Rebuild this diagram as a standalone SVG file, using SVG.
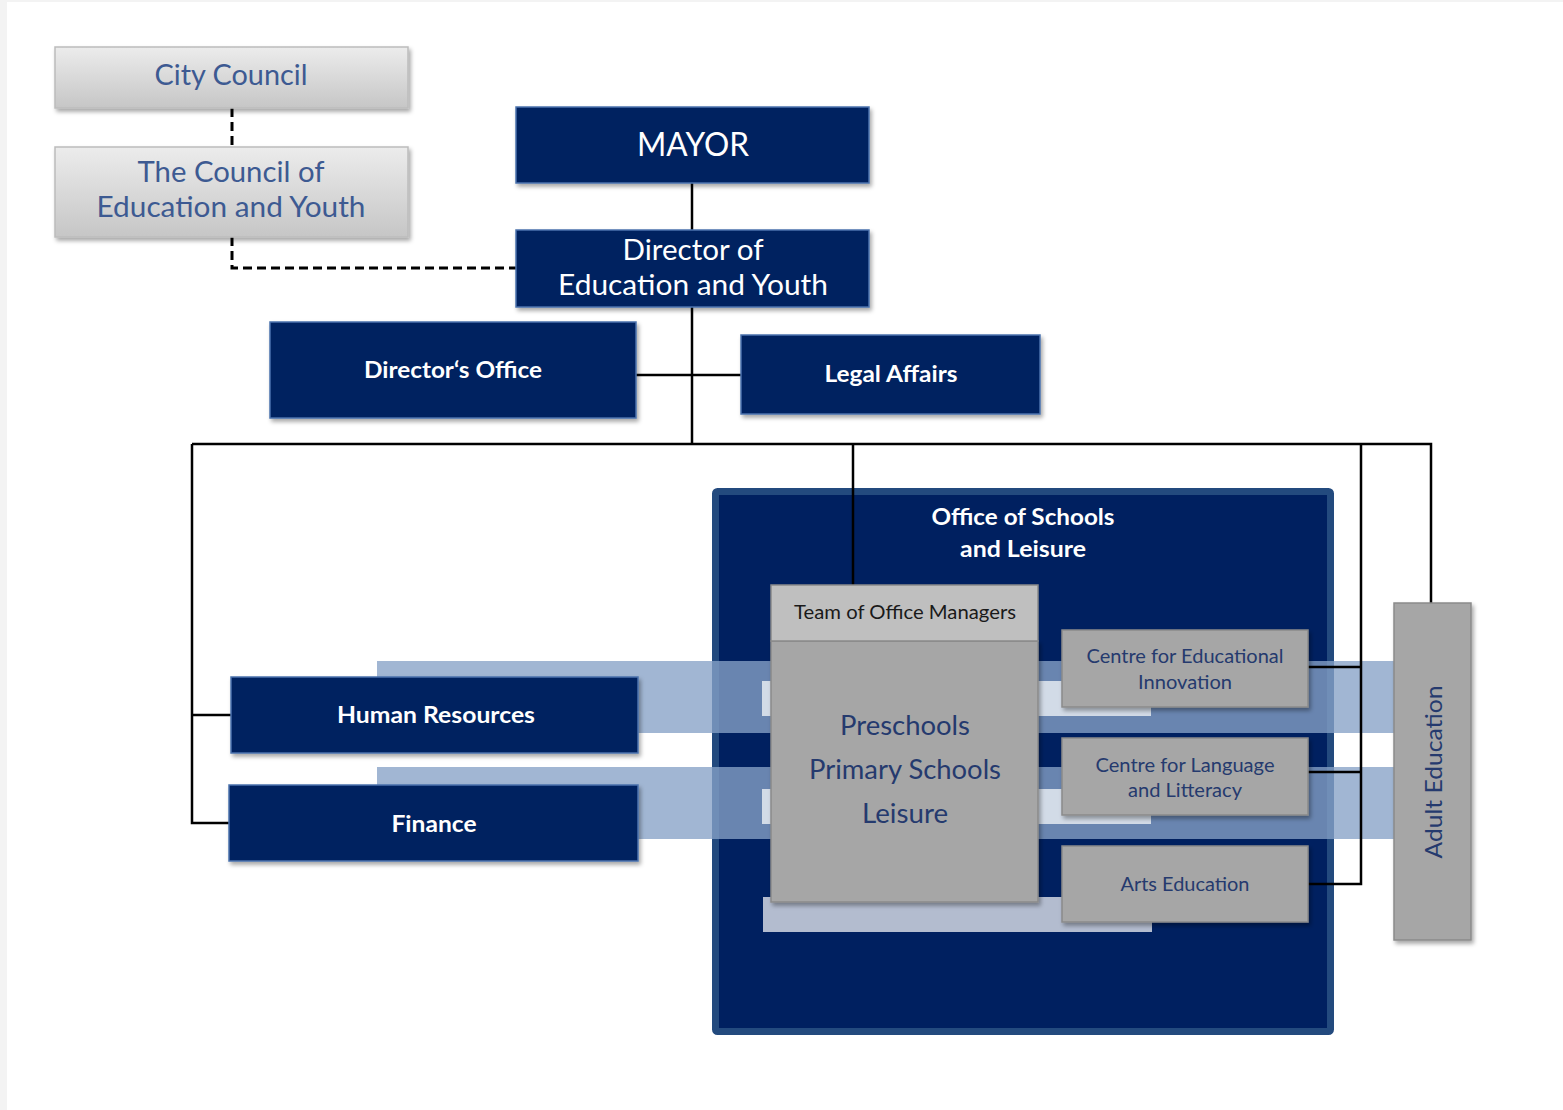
<svg xmlns="http://www.w3.org/2000/svg" width="1563" height="1110" viewBox="0 0 1563 1110">
<defs>
<linearGradient id="gCouncil" x1="0" y1="0" x2="0" y2="1">
<stop offset="0" stop-color="#ececec"/>
<stop offset="1" stop-color="#c6c6c6"/>
</linearGradient>
<filter id="sh" x="-10%" y="-10%" width="130%" height="140%">
<feDropShadow dx="2" dy="3" stdDeviation="2" flood-color="#000" flood-opacity="0.35"/>
</filter>
<style>
.navy{fill:#002060;stroke:#4a72ad;stroke-width:1.5}
.council{fill:url(#gCouncil);stroke:#bcbcbc;stroke-width:1.5}
.gray{fill:#a6a6a6;stroke:#8a8a8a;stroke-width:1.5}
.head{fill:#bfbfbf;stroke:#8a8a8a;stroke-width:1.5}
.band{fill:#86a2c6;opacity:0.78}
.lite{fill:#ffffff;opacity:0.7}
.t{font-family:Lato,"Open Sans","Liberation Sans",sans-serif;text-anchor:middle}
.tc{fill:#3d5a92;font-size:29px}
.tw{fill:#ffffff;font-size:29px}
.tb{fill:#ffffff;font-size:22px;font-weight:bold}
.tg{fill:#253a6e;font-size:19.5px}
.tp{fill:#253a6e;font-size:27px}
.th{fill:#1a1a1a;font-size:19.5px}
.solid{stroke:#000;stroke-width:2.5;fill:none}
.dash{stroke:#000;stroke-width:3;fill:none;stroke-dasharray:9 5}
</style>
</defs>
<rect x="0" y="0" width="1563" height="1110" fill="#f3f3f3"/>
<rect x="7" y="2" width="1556" height="1108" fill="#ffffff"/>

<g id="office-schools-leisure">
<rect x="715.5" y="491.5" width="615" height="540" rx="2" fill="#002060" stroke="#234a7e" stroke-width="7"/>
<text class="t tb" x="1023" y="525" textLength="183" lengthAdjust="spacingAndGlyphs">Office of Schools</text>
<text class="t tb" x="1023" y="557" textLength="126" lengthAdjust="spacingAndGlyphs">and Leisure</text>
</g>

<g id="bands">
<rect class="band" x="377" y="661" width="1017" height="72"/>
<rect class="band" x="377" y="767" width="1017" height="72"/>
<rect class="lite" x="762" y="681" width="389" height="35"/>
<rect class="lite" x="762" y="789" width="389" height="35"/>
<rect class="lite" x="763" y="897" width="389" height="35"/>
</g>

<g id="connectors">
<path class="dash" d="M232 108 V147"/>
<path class="dash" d="M232 237 V268 H516"/>
<path class="solid" d="M692 183 V230"/>
<path class="solid" d="M692 307 V444"/>
<path class="solid" d="M636 375 H741"/>
<path class="solid" d="M192 444 H1431 V603"/>
<path class="solid" d="M192 444 V823 H229"/>
<path class="solid" d="M192 715 H231"/>
<path class="solid" d="M853 444 V585"/>
<path class="solid" d="M1361 444 V884 H1308"/>
<path class="solid" d="M1308 667 H1361"/>
<path class="solid" d="M1308 772 H1361"/>
</g>

<g id="city-council">
<rect class="council" x="55" y="47" width="353" height="61" filter="url(#sh)"/>
<text class="t tc" x="231" y="85" textLength="153" lengthAdjust="spacingAndGlyphs">City Council</text>
</g>

<g id="council-education-youth">
<rect class="council" x="55" y="147" width="353" height="90" filter="url(#sh)"/>
<text class="t tc" x="231" y="182" textLength="187" lengthAdjust="spacingAndGlyphs">The Council of</text>
<text class="t tc" x="231" y="217" textLength="269" lengthAdjust="spacingAndGlyphs">Education and Youth</text>
</g>

<g id="mayor">
<rect class="navy" x="516" y="107" width="353" height="76" filter="url(#sh)"/>
<text class="t tw" x="693" y="156" style="font-size:32px" textLength="112" lengthAdjust="spacingAndGlyphs">MAYOR</text>
</g>

<g id="director">
<rect class="navy" x="516" y="230" width="353" height="77" filter="url(#sh)"/>
<text class="t tw" x="693" y="260" textLength="141" lengthAdjust="spacingAndGlyphs">Director of</text>
<text class="t tw" x="693" y="295" textLength="270" lengthAdjust="spacingAndGlyphs">Education and Youth</text>
</g>

<g id="directors-office">
<rect class="navy" x="270" y="322" width="366" height="96" filter="url(#sh)"/>
<text class="t tb" x="453" y="378" textLength="178" lengthAdjust="spacingAndGlyphs">Director‘s Office</text>
</g>

<g id="legal-affairs">
<rect class="navy" x="741" y="335" width="299" height="79" filter="url(#sh)"/>
<text class="t tb" x="891" y="382" textLength="133" lengthAdjust="spacingAndGlyphs">Legal Affairs</text>
</g>

<g id="human-resources">
<rect class="navy" x="231" y="677" width="407" height="76" filter="url(#sh)"/>
<text class="t tb" x="436" y="723" textLength="198" lengthAdjust="spacingAndGlyphs">Human Resources</text>
</g>

<g id="finance">
<rect class="navy" x="229" y="785" width="409" height="76" filter="url(#sh)"/>
<text class="t tb" x="434" y="832" textLength="85" lengthAdjust="spacingAndGlyphs">Finance</text>
</g>

<g id="team-office-managers">
<rect class="gray" x="771" y="641" width="267" height="261" filter="url(#sh)"/>
<rect class="head" x="771" y="585" width="267" height="56"/>
<text class="t th" x="905" y="619" textLength="222" lengthAdjust="spacingAndGlyphs">Team of Office Managers</text>
<text class="t tp" x="905" y="735" textLength="130" lengthAdjust="spacingAndGlyphs">Preschools</text>
<text class="t tp" x="905" y="779" textLength="192" lengthAdjust="spacingAndGlyphs">Primary Schools</text>
<text class="t tp" x="905" y="823" textLength="86" lengthAdjust="spacingAndGlyphs">Leisure</text>
</g>

<g id="centre-educational-innovation">
<rect class="gray" x="1062" y="630" width="246" height="77" filter="url(#sh)"/>
<text class="t tg" x="1185" y="663" textLength="197" lengthAdjust="spacingAndGlyphs">Centre for Educational</text>
<text class="t tg" x="1185" y="689" textLength="94" lengthAdjust="spacingAndGlyphs">Innovation</text>
</g>

<g id="centre-language-literacy">
<rect class="gray" x="1062" y="738" width="246" height="77" filter="url(#sh)"/>
<text class="t tg" x="1185" y="772" textLength="179" lengthAdjust="spacingAndGlyphs">Centre for Language</text>
<text class="t tg" x="1185" y="797" textLength="114" lengthAdjust="spacingAndGlyphs">and Litteracy</text>
</g>

<g id="arts-education">
<rect class="gray" x="1062" y="846" width="246" height="76" filter="url(#sh)"/>
<text class="t tg" x="1185" y="891" textLength="129" lengthAdjust="spacingAndGlyphs">Arts Education</text>
</g>

<g id="adult-education">
<rect class="gray" x="1394" y="603" width="77" height="337" filter="url(#sh)"/>
<text class="t tp" x="1433" y="781" style="font-size:24px" transform="rotate(-90 1433 772)" textLength="173" lengthAdjust="spacingAndGlyphs">Adult Education</text>
</g>
</svg>
